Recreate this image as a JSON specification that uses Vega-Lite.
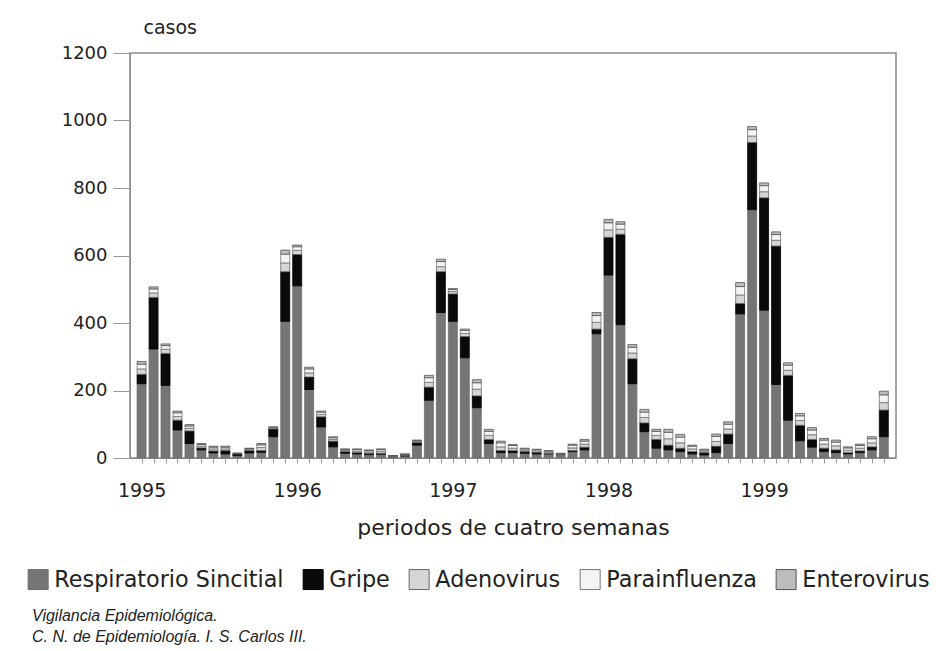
{
  "$schema": "https://vega.github.io/schema/vega-lite/v6.json",
  "width": 766,
  "height": 405,
  "autosize": {"type": "none"},
  "padding": {"left": 130, "top": 53, "right": 40, "bottom": 193},
  "background": "white",
  "config": {"font": "DejaVu Sans", "view": {"stroke": "#8a8a8a", "strokeWidth": 1.5}},
  "title": {
    "text": ["Vigilancia Epidemiológica.", "C. N. de Epidemiología. I. S. Carlos III."],
    "orient": "bottom", "anchor": "start", "frame": "group",
    "font": "Liberation Sans", "fontStyle": "italic", "fontWeight": "normal",
    "fontSize": 16, "lineHeight": 21, "color": "#222", "dx": -98, "offset": 16
  },
  "data": {"values": [
    {"n":0,"Respiratorio Sincitial":220,"Gripe":28,"Adenovirus":16,"Parainfluenza":14,"Enterovirus":8},
    {"n":1,"Respiratorio Sincitial":323,"Gripe":153,"Adenovirus":13,"Parainfluenza":12,"Enterovirus":6},
    {"n":2,"Respiratorio Sincitial":215,"Gripe":95,"Adenovirus":12,"Parainfluenza":11,"Enterovirus":5},
    {"n":3,"Respiratorio Sincitial":83,"Gripe":29,"Adenovirus":11,"Parainfluenza":11,"Enterovirus":5},
    {"n":4,"Respiratorio Sincitial":43,"Gripe":37,"Adenovirus":8,"Parainfluenza":7,"Enterovirus":4},
    {"n":5,"Respiratorio Sincitial":24,"Gripe":6,"Adenovirus":5,"Parainfluenza":5,"Enterovirus":3},
    {"n":6,"Respiratorio Sincitial":15,"Gripe":6,"Adenovirus":6,"Parainfluenza":5,"Enterovirus":3},
    {"n":7,"Respiratorio Sincitial":12,"Gripe":10,"Adenovirus":5,"Parainfluenza":5,"Enterovirus":3},
    {"n":8,"Respiratorio Sincitial":7,"Gripe":5,"Adenovirus":1,"Parainfluenza":1,"Enterovirus":0},
    {"n":9,"Respiratorio Sincitial":15,"Gripe":7,"Adenovirus":3,"Parainfluenza":3,"Enterovirus":1},
    {"n":10,"Respiratorio Sincitial":17,"Gripe":5,"Adenovirus":9,"Parainfluenza":8,"Enterovirus":4},
    {"n":11,"Respiratorio Sincitial":63,"Gripe":23,"Adenovirus":3,"Parainfluenza":2,"Enterovirus":1},
    {"n":12,"Respiratorio Sincitial":405,"Gripe":147,"Adenovirus":26,"Parainfluenza":26,"Enterovirus":12},
    {"n":13,"Respiratorio Sincitial":510,"Gripe":93,"Adenovirus":12,"Parainfluenza":11,"Enterovirus":5},
    {"n":14,"Respiratorio Sincitial":203,"Gripe":37,"Adenovirus":12,"Parainfluenza":12,"Enterovirus":5},
    {"n":15,"Respiratorio Sincitial":92,"Gripe":30,"Adenovirus":7,"Parainfluenza":7,"Enterovirus":3},
    {"n":16,"Respiratorio Sincitial":33,"Gripe":17,"Adenovirus":5,"Parainfluenza":5,"Enterovirus":3},
    {"n":17,"Respiratorio Sincitial":14,"Gripe":5,"Adenovirus":3,"Parainfluenza":3,"Enterovirus":2},
    {"n":18,"Respiratorio Sincitial":12,"Gripe":4,"Adenovirus":4,"Parainfluenza":5,"Enterovirus":2},
    {"n":19,"Respiratorio Sincitial":10,"Gripe":4,"Adenovirus":4,"Parainfluenza":4,"Enterovirus":2},
    {"n":20,"Respiratorio Sincitial":11,"Gripe":3,"Adenovirus":6,"Parainfluenza":5,"Enterovirus":2},
    {"n":21,"Respiratorio Sincitial":4,"Gripe":1,"Adenovirus":1,"Parainfluenza":1,"Enterovirus":0},
    {"n":22,"Respiratorio Sincitial":6,"Gripe":2,"Adenovirus":2,"Parainfluenza":1,"Enterovirus":1},
    {"n":23,"Respiratorio Sincitial":38,"Gripe":8,"Adenovirus":3,"Parainfluenza":3,"Enterovirus":1},
    {"n":24,"Respiratorio Sincitial":171,"Gripe":39,"Adenovirus":14,"Parainfluenza":14,"Enterovirus":7},
    {"n":25,"Respiratorio Sincitial":431,"Gripe":121,"Adenovirus":15,"Parainfluenza":15,"Enterovirus":7},
    {"n":26,"Respiratorio Sincitial":405,"Gripe":81,"Adenovirus":7,"Parainfluenza":6,"Enterovirus":3},
    {"n":27,"Respiratorio Sincitial":297,"Gripe":63,"Adenovirus":9,"Parainfluenza":9,"Enterovirus":4},
    {"n":28,"Respiratorio Sincitial":149,"Gripe":35,"Adenovirus":20,"Parainfluenza":19,"Enterovirus":9},
    {"n":29,"Respiratorio Sincitial":43,"Gripe":12,"Adenovirus":12,"Parainfluenza":12,"Enterovirus":6},
    {"n":30,"Respiratorio Sincitial":16,"Gripe":6,"Adenovirus":11,"Parainfluenza":12,"Enterovirus":5},
    {"n":31,"Respiratorio Sincitial":16,"Gripe":6,"Adenovirus":7,"Parainfluenza":8,"Enterovirus":3},
    {"n":32,"Respiratorio Sincitial":14,"Gripe":5,"Adenovirus":4,"Parainfluenza":4,"Enterovirus":2},
    {"n":33,"Respiratorio Sincitial":12,"Gripe":5,"Adenovirus":4,"Parainfluenza":4,"Enterovirus":1},
    {"n":34,"Respiratorio Sincitial":12,"Gripe":2,"Adenovirus":4,"Parainfluenza":3,"Enterovirus":1},
    {"n":35,"Respiratorio Sincitial":10,"Gripe":1,"Adenovirus":1,"Parainfluenza":1,"Enterovirus":1},
    {"n":36,"Respiratorio Sincitial":19,"Gripe":3,"Adenovirus":8,"Parainfluenza":8,"Enterovirus":3},
    {"n":37,"Respiratorio Sincitial":24,"Gripe":8,"Adenovirus":9,"Parainfluenza":9,"Enterovirus":5},
    {"n":38,"Respiratorio Sincitial":368,"Gripe":14,"Adenovirus":20,"Parainfluenza":20,"Enterovirus":9},
    {"n":39,"Respiratorio Sincitial":542,"Gripe":112,"Adenovirus":22,"Parainfluenza":21,"Enterovirus":10},
    {"n":40,"Respiratorio Sincitial":395,"Gripe":268,"Adenovirus":15,"Parainfluenza":15,"Enterovirus":7},
    {"n":41,"Respiratorio Sincitial":220,"Gripe":74,"Adenovirus":17,"Parainfluenza":17,"Enterovirus":8},
    {"n":42,"Respiratorio Sincitial":78,"Gripe":26,"Adenovirus":16,"Parainfluenza":16,"Enterovirus":8},
    {"n":43,"Respiratorio Sincitial":29,"Gripe":26,"Adenovirus":12,"Parainfluenza":12,"Enterovirus":6},
    {"n":44,"Respiratorio Sincitial":24,"Gripe":14,"Adenovirus":19,"Parainfluenza":19,"Enterovirus":9},
    {"n":45,"Respiratorio Sincitial":19,"Gripe":10,"Adenovirus":16,"Parainfluenza":17,"Enterovirus":8},
    {"n":46,"Respiratorio Sincitial":12,"Gripe":7,"Adenovirus":8,"Parainfluenza":8,"Enterovirus":3},
    {"n":47,"Respiratorio Sincitial":9,"Gripe":7,"Adenovirus":4,"Parainfluenza":4,"Enterovirus":2},
    {"n":48,"Respiratorio Sincitial":16,"Gripe":19,"Adenovirus":14,"Parainfluenza":15,"Enterovirus":7},
    {"n":49,"Respiratorio Sincitial":43,"Gripe":28,"Adenovirus":15,"Parainfluenza":14,"Enterovirus":7},
    {"n":50,"Respiratorio Sincitial":427,"Gripe":31,"Adenovirus":25,"Parainfluenza":25,"Enterovirus":12},
    {"n":51,"Respiratorio Sincitial":736,"Gripe":199,"Adenovirus":19,"Parainfluenza":19,"Enterovirus":9},
    {"n":52,"Respiratorio Sincitial":438,"Gripe":333,"Adenovirus":18,"Parainfluenza":18,"Enterovirus":8},
    {"n":53,"Respiratorio Sincitial":218,"Gripe":410,"Adenovirus":17,"Parainfluenza":17,"Enterovirus":8},
    {"n":54,"Respiratorio Sincitial":112,"Gripe":133,"Adenovirus":15,"Parainfluenza":15,"Enterovirus":7},
    {"n":55,"Respiratorio Sincitial":51,"Gripe":46,"Adenovirus":14,"Parainfluenza":14,"Enterovirus":7},
    {"n":56,"Respiratorio Sincitial":32,"Gripe":23,"Adenovirus":14,"Parainfluenza":14,"Enterovirus":7},
    {"n":57,"Respiratorio Sincitial":19,"Gripe":10,"Adenovirus":12,"Parainfluenza":12,"Enterovirus":5},
    {"n":58,"Respiratorio Sincitial":16,"Gripe":8,"Adenovirus":12,"Parainfluenza":11,"Enterovirus":6},
    {"n":59,"Respiratorio Sincitial":12,"Gripe":4,"Adenovirus":7,"Parainfluenza":7,"Enterovirus":3},
    {"n":60,"Respiratorio Sincitial":16,"Gripe":5,"Adenovirus":8,"Parainfluenza":8,"Enterovirus":4},
    {"n":61,"Respiratorio Sincitial":24,"Gripe":9,"Adenovirus":12,"Parainfluenza":12,"Enterovirus":6},
    {"n":62,"Respiratorio Sincitial":63,"Gripe":79,"Adenovirus":22,"Parainfluenza":23,"Enterovirus":11}
  ]},
  "transform": [
    {"fold": ["Respiratorio Sincitial", "Gripe", "Adenovirus", "Parainfluenza", "Enterovirus"], "as": ["virus", "casos"]},
    {"window": [{"op": "row_number", "as": "capa"}], "groupby": ["n"]}
  ],
  "mark": {"type": "bar", "width": 9, "strokeWidth": 0.8},
  "encoding": {
    "x": {
      "field": "n", "type": "quantitative",
      "scale": {"domain": [-0.55, 62.6], "nice": false, "zero": false},
      "axis": {
        "values": [0,1,2,3,4,5,6,7,8,9,10,11,12,13,14,15,16,17,18,19,20,21,22,23,24,25,26,27,28,29,30,31,32,33,34,35,36,37,38,39,40,41,42,43,44,45,46,47,48,49,50,51,52,53,54,55,56,57,58,59,60,61,62],
        "labelExpr": "datum.value == 0 ? '1995' : datum.value == 13 ? '1996' : datum.value == 26 ? '1997' : datum.value == 39 ? '1998' : datum.value == 52 ? '1999' : ''",
        "labelOverlap": false, "labelFlush": false,
        "tickSize": 5, "tickColor": "#9a9a9a", "domainColor": "#8a8a8a",
        "labelFontSize": 19, "labelPadding": 18, "labelColor": "#222",
        "grid": false,
        "title": "periodos de cuatro semanas",
        "titleFontSize": 22, "titleFontWeight": "normal", "titleColor": "#222",
        "titleBaseline": "alphabetic", "titleY": 76
      }
    },
    "y": {
      "field": "casos", "type": "quantitative", "stack": "zero",
      "scale": {"domain": [0, 1200], "nice": false},
      "axis": {
        "values": [0, 200, 400, 600, 800, 1000, 1200], "format": "d",
        "tickSize": 17, "tickColor": "#9a9a9a", "domainColor": "#8a8a8a",
        "labelFontSize": 18, "labelPadding": 6, "labelColor": "#222",
        "grid": false,
        "title": "casos", "titleAngle": 0, "titleAlign": "left", "titleBaseline": "alphabetic",
        "titleX": 13, "titleY": -20, "titleFontSize": 19, "titleFontWeight": "normal", "titleColor": "#222"
      }
    },
    "order": {"field": "capa", "type": "quantitative", "sort": "ascending"},
    "color": {
      "field": "virus", "type": "nominal",
      "sort": ["Respiratorio Sincitial", "Gripe", "Adenovirus", "Parainfluenza", "Enterovirus"],
      "scale": {
        "domain": ["Respiratorio Sincitial", "Gripe", "Adenovirus", "Parainfluenza", "Enterovirus"],
        "range": ["#757575", "#0a0a0a", "#d6d6d6", "#f4f4f4", "#bdbdbd"]
      },
      "legend": {
        "orient": "none", "legendX": -103, "legendY": 515,
        "direction": "horizontal", "columns": 5, "title": null,
        "symbolType": "square", "symbolSize": 400,
        "symbolStrokeColor": "#555", "symbolStrokeWidth": 1,
        "labelFontSize": 22.3, "labelColor": "#222", "labelOffset": 5,
        "columnPadding": 17, "labelLimit": 400
      }
    },
    "stroke": {
      "field": "virus", "type": "nominal",
      "scale": {
        "domain": ["Respiratorio Sincitial", "Gripe", "Adenovirus", "Parainfluenza", "Enterovirus"],
        "range": ["#6e6e6e", "#000000", "#666666", "#777777", "#555555"]
      },
      "legend": null
    }
  }
}
